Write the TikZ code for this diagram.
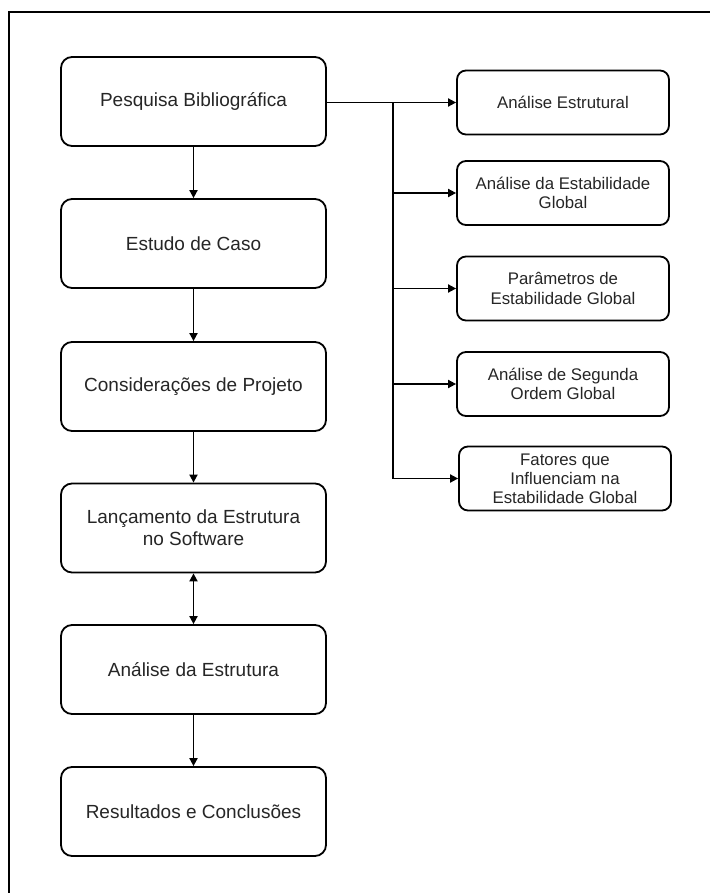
\documentclass[tikz,border=0pt]{standalone}
\usepackage{fontspec}
\setmainfont{Liberation Sans}
\usetikzlibrary{arrows.meta}
\begin{document}
\begin{tikzpicture}[x=1pt,y=-1pt,
  lbox/.style={draw=black, line width=1.8pt, rounded corners=11pt, minimum width=265pt, minimum height=89pt, inner sep=0pt, align=center, text=black!85, font=\fontsize{19}{22}\selectfont},
  rbox/.style={draw=black, line width=1.8pt, rounded corners=9pt, minimum width=212pt, minimum height=64pt, inner sep=0pt, align=center, text=black!85, font=\fontsize{16.8}{19.2}\selectfont},
  conn/.style={line width=1.8pt, -{Triangle[length=8pt,width=8pt]}},
  dconn/.style={line width=1.8pt, {Triangle[length=8pt,width=8pt]}-{Triangle[length=8pt,width=8pt]}},
  plain/.style={line width=1.8pt}]
\useasboundingbox (0,0) rectangle (710,893);
\fill[white] (0,0) rectangle (710,893);
\draw[line width=2pt] (8.5,893) -- (8.5,12.5) -- (710,12.5);

\node[lbox] (b1) at (193.5,101.5) {Pesquisa Bibliográfica};
\node[lbox] (b2) at (193.5,243.5) {Estudo de Caso};
\node[lbox] (b3) at (193.5,386.5) {Considerações de Projeto};
\node[lbox] (b4) at (193.5,528) {Lançamento da Estrutura\\no Software};
\node[lbox] (b5) at (193.5,669.5) {Análise da Estrutura};
\node[lbox] (b6) at (193.5,811.5) {Resultados e Conclusões};

\node[rbox] (r1) at (563,102.5) {Análise Estrutural};
\node[rbox] (r2) at (563,193) {Análise da Estabilidade\\Global};
\node[rbox] (r3) at (563,288.5) {Parâmetros de\\Estabilidade Global};
\node[rbox] (r4) at (563,384) {Análise de Segunda\\Ordem Global};
\node[rbox] (r5) at (565,478.5) {Fatores que\\Influenciam na\\Estabilidade Global};

\draw[conn] (b1) -- (b2);
\draw[conn] (b2) -- (b3);
\draw[conn] (b3) -- (b4);
\draw[dconn] (b4) -- (b5);
\draw[conn] (b5) -- (b6);

\coordinate (t0) at (392.7,102.5);
\draw[conn] (b1.east |- r1.west) -- (r1.west);
\draw[plain] (t0) -- (t0 |- r5.west);
\draw[conn] (t0 |- r2.west) -- (r2.west);
\draw[conn] (t0 |- r3.west) -- (r3.west);
\draw[conn] (t0 |- r4.west) -- (r4.west);
\draw[conn] (t0 |- r5.west) -- (r5.west);
\end{tikzpicture}
\end{document}
